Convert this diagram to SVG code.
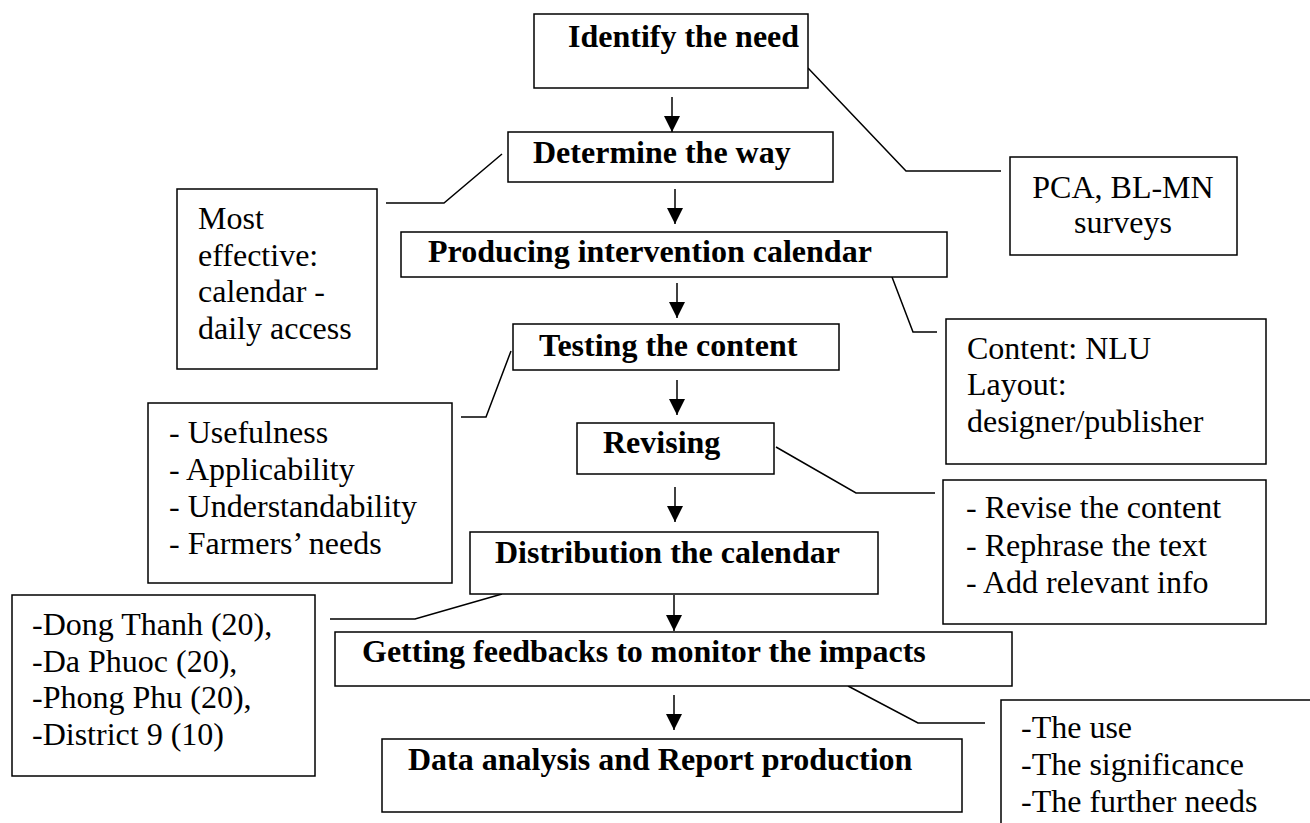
<svg xmlns="http://www.w3.org/2000/svg" width="1310" height="823" viewBox="0 0 1310 823">
<style>
rect{fill:#fff;stroke:#000;stroke-width:1.5}
text{font-family:"Liberation Serif","Times New Roman",serif;font-size:32px;fill:#000}
.b{font-weight:bold}
.c{fill:none;stroke:#000;stroke-width:1.5}
.a{fill:none;stroke:#000;stroke-width:1.5;marker-end:url(#ah)}
</style>
<defs>
<marker id="ah" markerUnits="userSpaceOnUse" markerWidth="17" markerHeight="17" refX="16" refY="8" orient="auto">
<path d="M0,0 L16,8 L0,16 z" fill="#000"/>
</marker>
</defs>
<rect x="-5" y="-5" width="1320" height="833" style="fill:#fff;stroke:none"/>
<g id="connectors">
<line class="a" x1="672" y1="97" x2="672" y2="132"/>
<line class="a" x1="675" y1="189" x2="675" y2="224"/>
<line class="a" x1="677" y1="283" x2="677" y2="318"/>
<line class="a" x1="677" y1="380" x2="677" y2="415"/>
<line class="a" x1="675" y1="487" x2="675" y2="522"/>
<line class="a" x1="674" y1="595" x2="674" y2="631"/>
<line class="a" x1="674" y1="695" x2="674" y2="730"/>
<polyline class="c" points="808,68 906,171 1001,171"/>
<polyline class="c" points="502,154 444,203 386,203"/>
<polyline class="c" points="892,277 913,332 937,332"/>
<polyline class="c" points="511,351 486,417 461,417"/>
<polyline class="c" points="776,447 856,493 935,493"/>
<polyline class="c" points="502,594 415,619 330,619"/>
<polyline class="c" points="848,686 918,723 985,723"/>
</g>
<g id="identify"><rect x="534" y="14" width="274" height="74"/><text class="b" x="568" y="47">Identify the need</text></g>
<g id="determine"><rect x="508" y="132" width="325" height="50"/><text class="b" x="533" y="163">Determine the way</text></g>
<g id="producing"><rect x="401" y="232" width="546" height="45"/><text class="b" x="428" y="262">Producing intervention calendar</text></g>
<g id="testing"><rect x="513" y="324" width="326" height="46"/><text class="b" x="539" y="356">Testing the content</text></g>
<g id="revising"><rect x="577" y="423" width="197" height="51"/><text class="b" x="603" y="453">Revising</text></g>
<g id="distribution"><rect x="470" y="532" width="408" height="62"/><text class="b" x="495" y="563">Distribution the calendar</text></g>
<g id="getting"><rect x="335" y="632" width="677" height="54"/><text class="b" x="362" y="662">Getting feedbacks to monitor the impacts</text></g>
<g id="data"><rect x="382" y="739" width="580" height="73"/><text class="b" x="408" y="770">Data analysis and Report production</text></g>
<g id="pca"><rect x="1010" y="157" width="227" height="98"/><text x="1123" y="198" text-anchor="middle">PCA, BL-MN</text><text x="1123" y="233" text-anchor="middle">surveys</text></g>
<g id="most"><rect x="177" y="189" width="200" height="180"/><text x="198" y="229">Most</text><text x="198" y="266">effective:</text><text x="198" y="302">calendar -</text><text x="198" y="339">daily access</text></g>
<g id="content"><rect x="946" y="319" width="320" height="145"/><text x="967" y="359">Content: NLU</text><text x="967" y="395">Layout:</text><text x="967" y="432">designer/publisher</text></g>
<g id="criteria"><rect x="148" y="403" width="304" height="180"/><text x="169" y="443">- Usefulness</text><text x="169" y="480">- Applicability</text><text x="169" y="517">- Understandability</text><text x="169" y="554">- Farmers’ needs</text></g>
<g id="revise"><rect x="943" y="480" width="323" height="144"/><text x="966" y="518">- Revise the content</text><text x="966" y="556">- Rephrase the text</text><text x="966" y="593">- Add relevant info</text></g>
<g id="locations"><rect x="12" y="595" width="303" height="181"/><text x="32" y="635">-Dong Thanh (20),</text><text x="32" y="672">-Da Phuoc (20),</text><text x="32" y="708">-Phong Phu (20),</text><text x="32" y="745">-District 9 (10)</text></g>
<g id="use"><rect x="1001" y="700" width="330" height="140"/><text x="1021" y="738">-The use</text><text x="1021" y="775">-The significance</text><text x="1021" y="812">-The further needs</text></g>
</svg>
